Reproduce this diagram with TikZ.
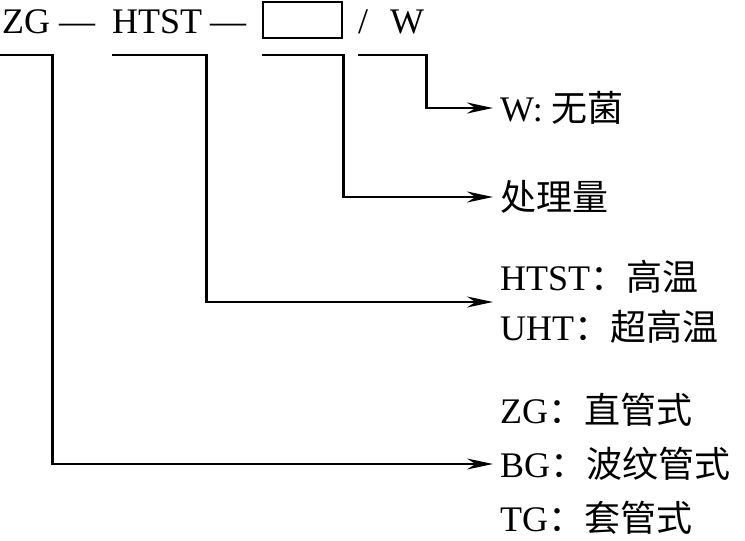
\documentclass[tikz,border=0pt]{standalone}
\usepackage{fontspec}
\setmainfont{Liberation Serif}
\newfontfamily\cjk{Noto Sans CJK SC}
\usetikzlibrary{positioning,calc,arrows.meta}

\begin{document}
\begin{tikzpicture}[x=1pt,y=-1pt,
      txt/.style={inner sep=0pt,font=\fontsize{36}{44}\selectfont},
      box/.style={rectangle,draw,line width=2.5pt,minimum width=79pt,minimum height=36pt,inner sep=0pt},
      lbl/.style={txt,anchor=west,align=left,inner xsep=7pt},
      arrow/.style={-{Stealth[length=26pt,width=11pt]},line width=2.5pt}
      ]
      \useasboundingbox (0,0) rectangle (745,541);

      \node[txt,anchor=base west] (zg) at (2,33) {ZG};
      \node[txt,anchor=base west] (dasha) at (59,33) {—};
      \node[txt,anchor=base west] (htst) at (112,33) {HTST};
      \node[txt,anchor=base west] (dashb) at (210,33) {—};
      \node[box] (amount) at (302.5,20) {};
      \node[txt,anchor=base west] (slash) at (358,33) {/};
      \node[txt,anchor=base west] (w) at (390,33) {W};

      \coordinate (rule) at (0,55);

      \node[lbl] (sterile) at (493,108) {W: {\cjk 无菌}};
      \node[lbl] (capacity) at (493,197) {\cjk 处理量};
      \node[lbl,font=\fontsize{36}{50}\selectfont] (temp) at (493,302) {HTST{\cjk ：高温}\\UHT{\cjk ：超高温}};
      \node[lbl,font=\fontsize{36}{54}\selectfont] (tube) at (493,464) {ZG{\cjk ：直管式}\\BG{\cjk ：波纹管式}\\TG{\cjk ：套管式}};

      \draw[arrow] (slash.west |- rule) -- ([xshift=2pt]w.east |- rule) |- (sterile.west);
      \draw[arrow] (amount.west |- rule) -- (amount.east |- rule) |- (capacity.west);
      \draw[arrow] (htst.west |- rule) -- ([xshift=4pt]htst.east |- rule) |- (temp.west);
      \draw[arrow] (rule) -- ([xshift=2pt]zg.east |- rule) |- (tube.west);

    \end{tikzpicture}
\end{document}
